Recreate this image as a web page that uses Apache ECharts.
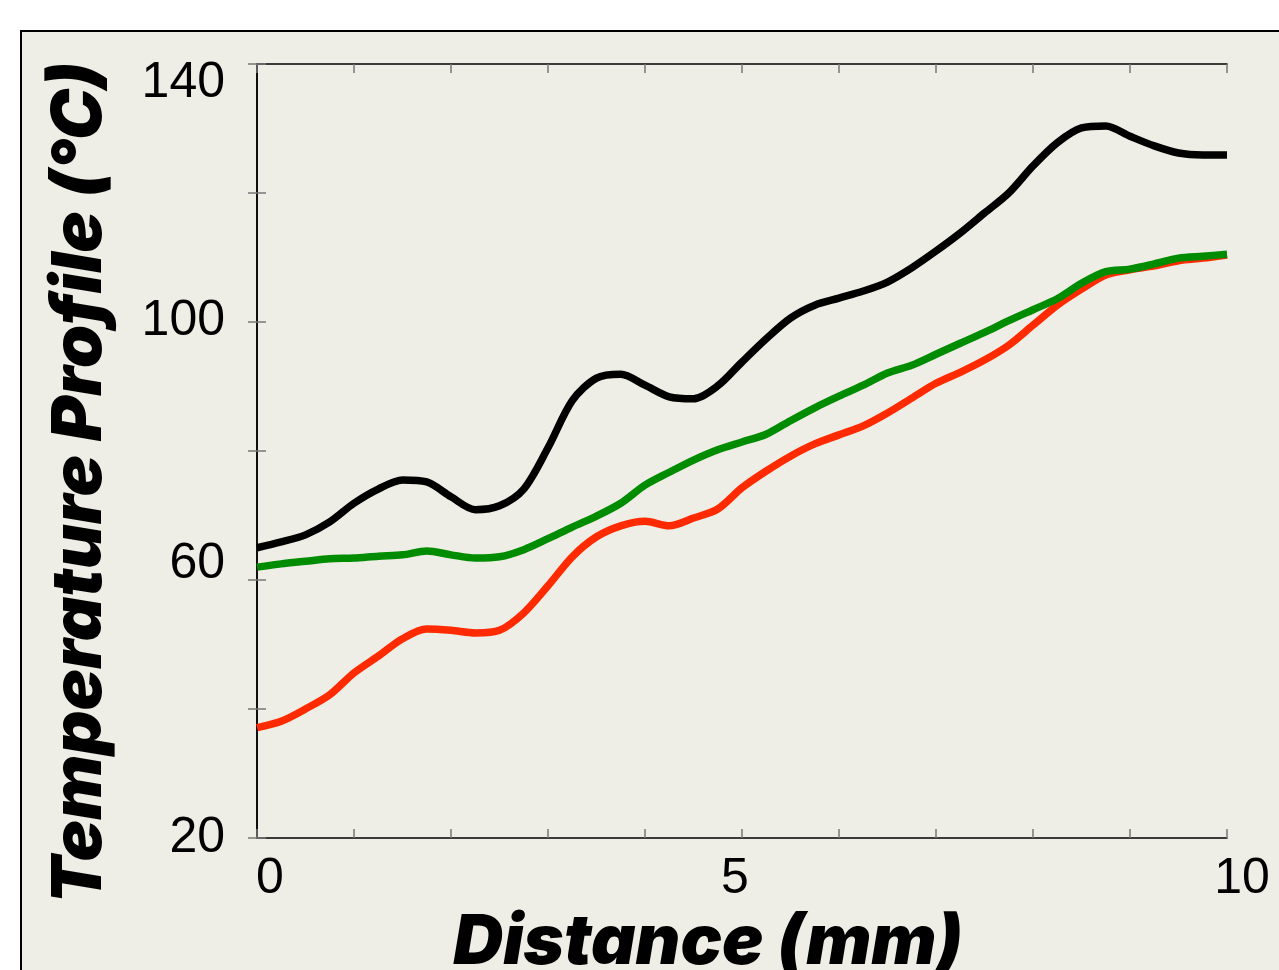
<!DOCTYPE html>
<html>
<head>
<meta charset="utf-8">
<title>Temperature Profile</title>
<script src="https://cdn.jsdelivr.net/npm/echarts@6/dist/echarts.min.js"></script>
<style>
  html, body { margin: 0; padding: 0; background: #fff; overflow: hidden; }
  #chart { width: 1279px; height: 970px; }
</style>
</head>
<body>
<div id="chart"></div>
<script>
// distance along the sample (mm), 0.25 mm steps
const distance = [
  0, 0.25, 0.5, 0.75, 1, 1.25, 1.5, 1.75, 2, 2.25, 2.5, 2.75, 3, 3.25, 3.5, 3.75,
  4, 4.25, 4.5, 4.75, 5, 5.25, 5.5, 5.75, 6, 6.25, 6.5, 6.75, 7, 7.25, 7.5, 7.75,
  8, 8.25, 8.5, 8.75, 9, 9.25, 9.5, 9.75, 10
]
const tempBlack = [
  65.0, 65.9, 67.0, 69.0, 71.9, 74.1, 75.5, 75.2, 72.9, 70.9, 71.5, 74.1, 80.5, 87.8, 91.3, 91.9,
  90.2, 88.4, 88.1, 90.1, 93.8, 97.4, 100.6, 102.6, 103.7, 104.8, 106.2, 108.4, 111.0, 113.8, 116.9, 120.0,
  124.2, 127.8, 130.1, 130.4, 128.8, 127.3, 126.2, 125.9, 125.9
]
const tempRed = [
  37.1, 38.1, 40.0, 42.2, 45.6, 48.2, 50.9, 52.4, 52.2, 51.8, 52.2, 54.9, 59.1, 63.6, 66.7, 68.4,
  69.1, 68.4, 69.6, 71.0, 74.3, 76.9, 79.2, 81.1, 82.5, 83.9, 85.9, 88.2, 90.5, 92.2, 94.1, 96.4,
  99.5, 102.6, 105.1, 107.3, 108.1, 108.7, 109.5, 109.9, 110.4
]
const tempGreen = [
  62.0, 62.5, 62.9, 63.3, 63.4, 63.7, 63.9, 64.5, 63.9, 63.4, 63.6, 64.7, 66.4, 68.2, 69.9, 71.9,
  74.7, 76.7, 78.6, 80.2, 81.4, 82.6, 84.7, 86.7, 88.5, 90.2, 92.1, 93.3, 95.0, 96.7, 98.4, 100.2,
  101.9, 103.6, 106.0, 107.8, 108.2, 109.0, 109.9, 110.2, 110.5
]
const xTickLabels = [0, 5, 10]
const yTickLabels = [20, 60, 100, 140]

const pairs = (ys) => distance.map((d, i) => [d, ys[i]])

const chart = echarts.init(document.getElementById('chart'), null, { renderer: 'canvas' })

const tickStyle = { show: true, inside: true, length: 9, lineStyle: { color: '#777', width: 1.5 } }
const lineStyleBox = { show: true, lineStyle: { color: '#000', width: 1.5 } }
const labelFont = 'Liberation Sans, Arial, sans-serif'
const titleFont = 'Inter, Lato, sans-serif'

chart.setOption({
  backgroundColor: '#fff',
  animation: false,
  graphic: [
    {
      type: 'rect',
      z: -10,
      shape: { x: 21, y: 31, width: 1300, height: 1000 },
      style: { fill: '#efeee6', stroke: '#000', lineWidth: 2 }
    }
  ],
  grid: { left: 257, top: 64, width: 970, height: 774, containLabel: false, outerBoundsMode: 'none' },
  xAxis: [
    {
      type: 'value',
      min: 0,
      max: 10,
      interval: 1,
      axisLine: lineStyleBox,
      axisTick: tickStyle,
      splitLine: { show: false },
      axisLabel: {
        margin: 16,
        showMinLabel: true,
        showMaxLabel: true,
        formatter: (v) => (xTickLabels.includes(v) ? `{x${v}|${v}}` : ''),
        rich: {
          x0: { fontSize: 50, fontFamily: labelFont, color: '#000', padding: [0, 0, 0, 26] },
          x5: { fontSize: 50, fontFamily: labelFont, color: '#000', padding: [0, 14, 0, 0] },
          x10: { fontSize: 50, fontFamily: labelFont, color: '#000', padding: [0, 0, 0, 30] }
        }
      },
      name: 'Distance (mm)',
      nameLocation: 'middle',
      nameGap: 70,
      nameTextStyle: {
        fontSize: 69,
        fontWeight: 900,
        fontStyle: 'italic',
        fontFamily: titleFont,
        color: '#000',
        verticalAlign: 'top',
        padding: [0, 68, 0, 0]
      }
    },
    {
      type: 'value',
      position: 'top',
      min: 0,
      max: 10,
      interval: 1,
      axisLine: lineStyleBox,
      axisTick: tickStyle,
      axisLabel: { show: false },
      splitLine: { show: false }
    }
  ],
  yAxis: [
    {
      type: 'value',
      min: 20,
      max: 140,
      interval: 20,
      axisLine: lineStyleBox,
      axisTick: tickStyle,
      splitLine: { show: false },
      axisLabel: {
        margin: 32,
        formatter: (v) => (yTickLabels.includes(v) ? `{y${v}|${v}}` : ''),
        rich: {
          y20: { fontSize: 50, fontFamily: labelFont, color: '#000', padding: [0, 0, 0, 0] },
          y60: { fontSize: 50, fontFamily: labelFont, color: '#000', padding: [0, 0, 32, 0] },
          y100: { fontSize: 50, fontFamily: labelFont, color: '#000', padding: [0, 0, 2, 0] },
          y140: { fontSize: 50, fontFamily: labelFont, color: '#000', padding: [38, 0, 0, 0] }
        }
      },
      name: 'Temperature Profile (°C)',
      nameLocation: 'middle',
      nameGap: 142,
      nameTextStyle: {
        fontSize: 69,
        fontWeight: 900,
        fontStyle: 'italic',
        fontFamily: titleFont,
        color: '#000',
        padding: [0, 64, 0, 0]
      }
    },
    {
      type: 'value',
      position: 'right',
      min: 20,
      max: 140,
      interval: 20,
      axisLine: lineStyleBox,
      axisTick: tickStyle,
      axisLabel: { show: false },
      splitLine: { show: false }
    }
  ],
  series: [
    {
      name: 'black',
      type: 'line',
      data: pairs(tempBlack),
      showSymbol: false,
      smooth: 0.3,
      lineStyle: { color: '#000', width: 7.5 },
      z: 3
    },
    {
      name: 'red',
      type: 'line',
      data: pairs(tempRed),
      showSymbol: false,
      smooth: 0.3,
      lineStyle: { color: '#ff2a00', width: 7.5 },
      z: 3
    },
    {
      name: 'green',
      type: 'line',
      data: pairs(tempGreen),
      showSymbol: false,
      smooth: 0.3,
      lineStyle: { color: '#008c00', width: 7.5 },
      z: 4
    }
  ]
})
</script>
</body>
</html>
